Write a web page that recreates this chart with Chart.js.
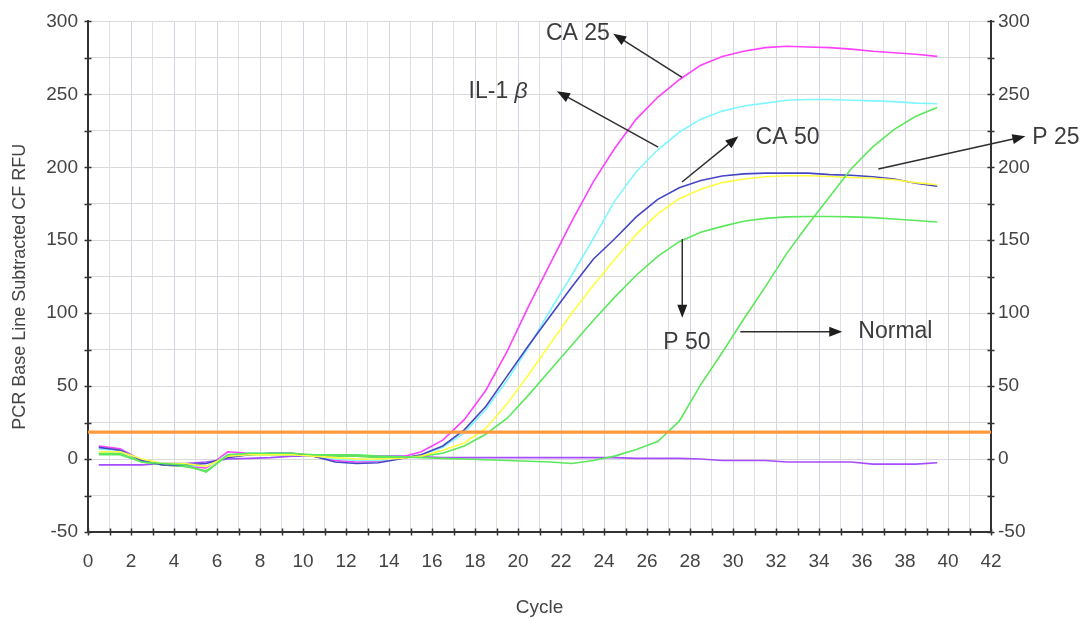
<!DOCTYPE html>
<html>
<head>
<meta charset="utf-8">
<script src="https://cdn.jsdelivr.net/npm/chart.js@4.4.1/dist/chart.umd.min.js"></script>
<style>
  html, body { margin: 0; padding: 0; background: #ffffff; }
  canvas { display: block; }
</style>
</head>
<body>
<canvas id="pcr" width="1085" height="619" style="width:1085px;height:619px"></canvas>
<script>
// Cycle positions of the amplification readings
const cycles = [0.5, 1.5, 2.5, 3.5, 4.5, 5.5, 6.5, 7.5, 8.5, 9.5,
  10.5, 11.5, 12.5, 13.5, 14.5, 15.5, 16.5, 17.5, 18.5, 19.5,
  20.5, 21.5, 22.5, 23.5, 24.5, 25.5, 26.5, 27.5, 28.5, 29.5,
  30.5, 31.5, 32.5, 33.5, 34.5, 35.5, 36.5, 37.5, 38.5, 39.5];

// Baseline-subtracted RFU per sample
const ca25 = [9, 7, -1, -4, -5, -6, 5, 4, 3.5, 3.5,
  2, -1, -2, -1.5, 1, 5, 13, 27, 47, 74,
  105, 134, 163, 190, 213, 233, 248, 260, 270, 276,
  279.5, 282, 283, 282.5, 282, 281, 279.5, 278.5, 277.5, 276];
const il1b = [7, 6, -1, -4, -4, -5, 3, 4, 4, 3,
  2, 0, -1, -1, 0.5, 3, 8, 18, 34, 54,
  77, 102, 126, 151, 177, 197, 212, 224, 233, 238.5,
  242, 244, 246, 246.5, 246.5, 246, 245.5, 245, 244, 243.5];
const ca50 = [8, 6, -1, -4, -4, -3, 1, 3, 4, 4,
  2, -2, -3, -2.5, 0, 3, 9, 20, 36, 57,
  78, 98, 118, 137, 151, 166, 178, 186, 191, 194,
  195.5, 196, 196, 196, 195, 194.5, 193.5, 192, 189, 187];
const p25 = [5, 5, 0, -3, -3, -5, 2, 3, 3, 3,
  2, 1, 0, 0, 0.5, 2, 6, 11, 21, 38,
  58, 79, 100, 119, 137, 154, 168, 178.5, 185, 189.5,
  192, 193.5, 194.2, 194.2, 193.7, 193, 192.5, 191.5, 189.5, 188];
const p50 = [4, 4, -2, -4, -5, -8, 2, 3, 3, 3,
  3, 2, 2, 1, 1, 2, 4, 9, 17, 28,
  44, 61, 78, 95, 111, 126, 139, 149, 155.5, 159.5,
  163, 165, 166, 166.3, 166.3, 166, 165.5, 164.5, 163.5, 162.5];
const normal = [3, 3, -2, -3, -4, -9, 3, 4, 4, 4,
  3, 3, 3, 2, 1.5, 1, 0.5, 0, -0.5, -1,
  -1.5, -2, -3, -1, 2, 6.5, 12, 26, 51, 73,
  96, 118, 141, 161, 180, 199, 214, 226, 235, 241];
const negative = [-4, -4, -4, -3, -3, -2, 0, 0.5, 1, 2,
  2, 2, 2, 2, 2, 1.5, 1, 1, 1, 1,
  1, 1, 1, 1, 1, 0.5, 0.5, 0.5, 0, -1,
  -1, -1, -2, -2, -2, -2, -3.5, -3.5, -3.5, -2.5];

// Threshold cycle line
const threshold = 18.4;

// Axis ranges
const xRange = [0, 42];
const yRange = [-50, 300];

// Axis titles
const xTitle = 'Cycle';
const yTitle = 'PCR Base Line Subtracted CF RFU';

// Callout labels: text position and arrow (tail -> head), in cycle / RFU units
const callouts = [
  { text: 'CA 25',  at: [21.3, 291.3],  tail: [27.63, 261.6], head: [24.43, 291.5] },
  { text: 'IL-1',   greek: 'β', at: [17.7, 252.1], tail: [26.52, 213.8], head: [21.81, 252.1] },
  { text: 'CA 50',  at: [31.05, 220.0], tail: [27.63, 189.9], head: [30.25, 221.3] },
  { text: 'P 25',   at: [43.92, 220.0], tail: [36.76, 198.8], head: [43.6, 221.3] },
  { text: 'P 50',   at: [26.76, 79.8],  tail: [27.64, 150.8], head: [27.64, 96.8] },
  { text: 'Normal', at: [35.83, 87.3],  tail: [30.34, 87.3],  head: [35.08, 87.3] }
];

const FONT = '"Liberation Sans", Arial, sans-serif';
const pts = vals => cycles.map((c, i) => ({ x: c, y: vals[i] }));
const curve = (label, vals, color) => ({
  label, data: pts(vals), borderColor: color, borderWidth: 1.6,
  pointRadius: 0, tension: 0, fill: false
});

// Small tick marks crossing the axis lines
const axisTicks = {
  id: 'axisTicks',
  afterDraw(chart) {
    const { ctx, chartArea: a, scales } = chart;
    ctx.save();
    ctx.strokeStyle = '#333';
    ctx.lineWidth = 1.5;
    ctx.beginPath();
    scales.y.ticks.forEach(t => {
      const py = Math.round(scales.y.getPixelForValue(t.value)) + 0.5;
      ctx.moveTo(a.left - 3.5, py); ctx.lineTo(a.left + 3.5, py);
      ctx.moveTo(a.right - 3.5, py); ctx.lineTo(a.right + 3.5, py);
    });
    scales.x.ticks.forEach(t => {
      const px = Math.round(scales.x.getPixelForValue(t.value)) + 0.5;
      ctx.moveTo(px, a.bottom - 3.5); ctx.lineTo(px, a.bottom + 3.5);
    });
    ctx.stroke();

    // vertical axis title, rotated
    ctx.fillStyle = '#444';
    ctx.font = '18px ' + FONT;
    ctx.textAlign = 'center';
    ctx.textBaseline = 'middle';
    ctx.translate(20, (a.top + a.bottom) / 2 + 10);
    ctx.rotate(-Math.PI / 2);
    ctx.fillText(yTitle, 0, 0);
    ctx.restore();
  }
};

// Sample callouts with arrows
const calloutPlugin = {
  id: 'callouts',
  afterDraw(chart) {
    const { ctx, scales } = chart;
    const X = v => scales.x.getPixelForValue(v);
    const Y = v => scales.y.getPixelForValue(v);
    ctx.save();
    callouts.forEach(c => {
      const x1 = X(c.tail[0]), y1 = Y(c.tail[1]);
      const x2 = X(c.head[0]), y2 = Y(c.head[1]);
      const ang = Math.atan2(y2 - y1, x2 - x1);
      const len = 13, half = 5;
      ctx.strokeStyle = '#2e2e2e';
      ctx.fillStyle = '#1e1e1e';
      ctx.lineWidth = 1.5;
      ctx.beginPath();
      ctx.moveTo(x1, y1);
      ctx.lineTo(x2 - Math.cos(ang) * len * 0.7, y2 - Math.sin(ang) * len * 0.7);
      ctx.stroke();
      ctx.beginPath();
      ctx.moveTo(x2, y2);
      ctx.lineTo(x2 - Math.cos(ang) * len - Math.sin(ang) * half, y2 - Math.sin(ang) * len + Math.cos(ang) * half);
      ctx.lineTo(x2 - Math.cos(ang) * len + Math.sin(ang) * half, y2 - Math.sin(ang) * len - Math.cos(ang) * half);
      ctx.closePath();
      ctx.fill();

      ctx.fillStyle = '#3c3c3c';
      ctx.textBaseline = 'middle';
      ctx.textAlign = 'left';
      ctx.font = '23px ' + FONT;
      const tx = X(c.at[0]), ty = Y(c.at[1]);
      ctx.fillText(c.text, tx, ty);
      if (c.greek) {
        const w = ctx.measureText(c.text + ' ').width;
        ctx.font = 'italic 23px ' + FONT;
        ctx.fillText(c.greek, tx + w, ty);
      }
    });
    ctx.restore();
  }
};

const tickFont = { family: FONT, size: 19 };
const evenOnly = step => v => {
  const r = Math.round(v);
  return r % step === 0 ? String(r) : '';
};

new Chart(document.getElementById('pcr'), {
  type: 'line',
  data: {
    datasets: [
      { label: 'Threshold', data: [{ x: xRange[0], y: threshold }, { x: xRange[1], y: threshold }],
        borderColor: '#ff9a3c', borderWidth: 3.2, pointRadius: 0, tension: 0, fill: false },
      curve('Normal', normal, '#5ce85c'),
      curve('P 25', p25, '#ffff40'),
      curve('CA 50', ca50, '#4646c4'),
      curve('P 50', p50, '#5ce85c'),
      curve('IL-1β', il1b, '#80f6ff'),
      curve('CA 25', ca25, '#ff40ff'),
      curve('Negative', negative, '#a64dff')
    ]
  },
  options: {
    responsive: false,
    animation: false,
    devicePixelRatio: 1,
    layout: { padding: { top: 20, left: 0, right: 0, bottom: 0 } },
    plugins: { legend: { display: false }, tooltip: { enabled: false } },
    scales: {
      x: {
        type: 'linear', position: 'bottom', min: xRange[0], max: xRange[1],
        afterFit(s) { s.height = 87; },
        ticks: { stepSize: 1, autoSkip: false, maxRotation: 0, padding: 18,
          color: '#444', font: tickFont, callback: evenOnly(2) },
        grid: { drawTicks: false, lineWidth: 1,
          color: c => (c.tick && Math.round(c.tick.value) % 2 === 0) ? '#d7d3e6' : '#dfe1d7' },
        border: { color: '#333', width: 2 },
        title: { display: true, text: xTitle, color: '#444', font: { family: FONT, size: 19 },
          padding: { top: 0, bottom: 0 } }
      },
      y: {
        type: 'linear', position: 'left', min: yRange[0], max: yRange[1],
        afterFit(s) { s.width = 88; },
        ticks: { stepSize: 25, padding: 10, color: '#444', font: tickFont, callback: evenOnly(50) },
        grid: { drawTicks: false, lineWidth: 1, color: '#d9d9dd' },
        border: { color: '#333', width: 2 }
      },
      y2: {
        type: 'linear', position: 'right', min: yRange[0], max: yRange[1],
        afterFit(s) { s.width = 94; },
        ticks: { stepSize: 25, padding: 7, color: '#444', font: tickFont, callback: evenOnly(50) },
        grid: { display: false, drawTicks: false },
        border: { display: true, color: '#333', width: 2 }
      }
    }
  },
  plugins: [axisTicks, calloutPlugin]
});
</script>
</body>
</html>
